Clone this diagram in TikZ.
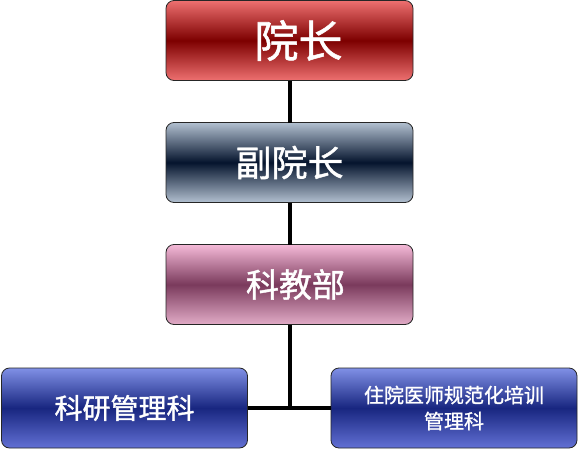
\documentclass[tikz,border=0pt]{standalone}
\usepackage{fontspec}
\newfontfamily\cjk{Noto Sans CJK SC}[AutoFakeBold=1.2]
\usetikzlibrary{positioning}
\definecolor{redlight}{RGB}{238,112,112}
\definecolor{reddark}{RGB}{125,0,0}
\definecolor{steellight}{RGB}{178,192,208}
\definecolor{steeldark}{RGB}{5,20,45}
\definecolor{pinklight}{RGB}{245,186,216}
\definecolor{pinkdark}{RGB}{122,58,92}
\definecolor{bluelight}{RGB}{128,144,230}
\definecolor{bluedark}{RGB}{24,38,128}
\definecolor{bluebottom}{RGB}{98,112,212}
\tikzset{
  box/.style={rectangle, rounded corners=8pt, draw=black!85, line width=0.8pt,
    minimum width=247pt, minimum height=80pt, align=center, text=white,
    inner sep=2pt, outer sep=0pt},
  boxRed/.style={box, top color=redlight, bottom color=redlight, middle color=reddark,
    font=\cjk\bfseries\fontsize{44}{50}\selectfont},
  boxSteel/.style={box, top color=steellight, bottom color=steellight, middle color=steeldark,
    font=\cjk\bfseries\fontsize{36}{42}\selectfont},
  boxPink/.style={box, top color=pinklight, bottom color=pinklight!92!black, middle color=pinkdark,
    font=\cjk\bfseries\fontsize{33}{38}\selectfont},
  boxBlue/.style={box, top color=bluelight, bottom color=bluebottom, middle color=bluedark,
    minimum width=246pt},
  conn/.style={line width=4pt, black},
}
\begin{document}
\begin{tikzpicture}[node distance=42pt]
\useasboundingbox (0,0) rectangle (579pt,-450pt);
\node[boxRed] (yz) at (289.5pt,-40.5pt) {\hspace*{18pt}院长};
\node[boxSteel, below=of yz] (fyz) {副院长};
\node[boxPink, below=of fyz] (kjb) {\hspace*{12pt}科教部};
\node[boxBlue, font=\cjk\bfseries\fontsize{28}{32}\selectfont] (kygl) at (124.5pt,-408pt) {科研管理科};
\node[boxBlue, font=\cjk\bfseries\fontsize{20}{26}\selectfont] (zpgl) at (454pt,-408pt) {住院医师规范化培训\\管理科};
\draw[conn] (yz) -- (fyz) -- (kjb);
\draw[conn] (kjb) -- (kjb |- kygl);
\draw[conn] (kygl) -- (zpgl);
\end{tikzpicture}
\end{document}
